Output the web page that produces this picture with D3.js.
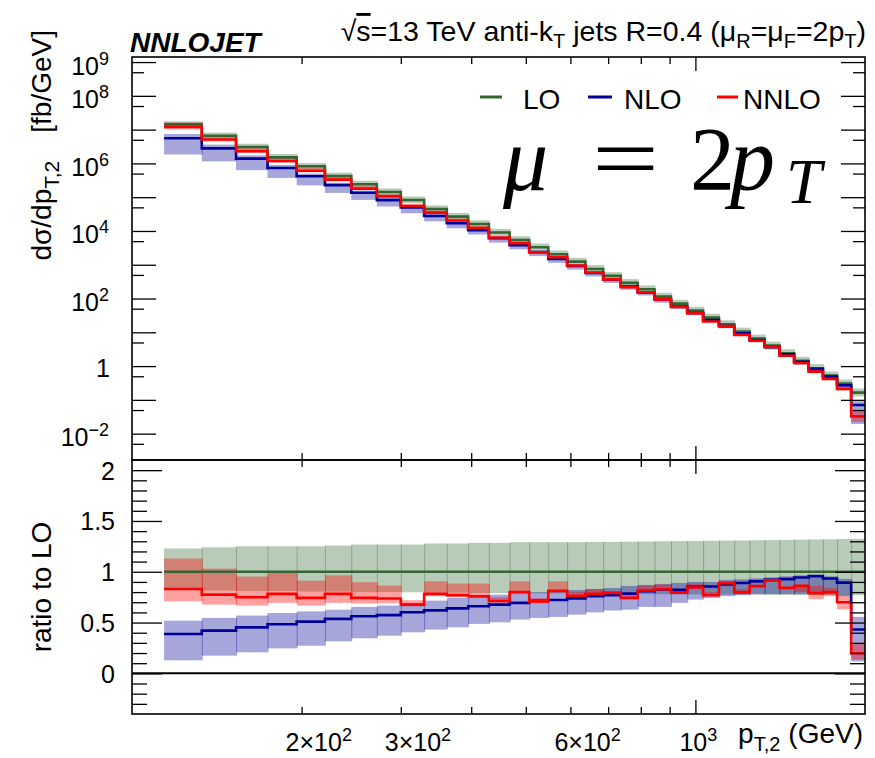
<!DOCTYPE html>
<html><head><meta charset="utf-8">
<script src="https://cdn.jsdelivr.net/npm/d3@7"></script>
<style>
body{margin:0;background:#fff}
svg{display:block}
text{fill:#000}
</style>
</head><body>
<svg id="c" width="875" height="758" style="font-family:'Liberation Sans',Arial,Helvetica,sans-serif"></svg>
<script>
// ---------------- data ----------------
const binEdges = [114,133,153,174,196,220,245,272,300,330,362,395,430,468,507,548,592,638,686,737,790,846,905,967,1032,1101,1172,1248,1327,1410,1497,1588,1684,1784,1890,2000];
// LO central cross section (fb/GeV)
const loXsec = [1.435e7,6.60e6,3.05e6,1.51e6,8.2e5,4.24e5,2.41e5,1.43e5,8.26e4,4.48e4,2.65e4,1.61e4,9.0e3,5.42e3,3.30e3,2.05e3,1.24e3,752,467,290,188,114,70.6,43.9,27.2,17.4,10.5,6.52,4.04,2.41,1.43,0.867,0.524,0.303,0.164];
// ratios to LO
const loUp  = [1.229,1.241,1.251,1.251,1.251,1.258,1.268,1.268,1.268,1.278,1.278,1.284,1.284,1.291,1.291,1.291,1.291,1.294,1.294,1.296,1.298,1.300,1.302,1.303,1.305,1.307,1.308,1.310,1.312,1.314,1.316,1.318,1.320,1.322,1.324];
const loDn  = [0.82,0.815,0.81,0.81,0.805,0.805,0.80,0.80,0.798,0.795,0.795,0.79,0.79,0.79,0.788,0.787,0.785,0.784,0.783,0.782,0.78,0.779,0.778,0.777,0.776,0.775,0.775,0.774,0.773,0.772,0.772,0.771,0.770,0.770,0.769];
const nloRatio = [0.388,0.421,0.453,0.483,0.509,0.536,0.562,0.573,0.601,0.62,0.64,0.66,0.677,0.694,0.715,0.722,0.738,0.759,0.770,0.785,0.808,0.825,0.822,0.851,0.855,0.874,0.89,0.905,0.92,0.928,0.943,0.956,0.933,0.893,0.431];
const nloUp = [0.519,0.546,0.569,0.594,0.610,0.627,0.654,0.667,0.694,0.716,0.742,0.759,0.775,0.788,0.80,0.81,0.82,0.83,0.84,0.86,0.87,0.88,0.89,0.90,0.90,0.92,0.925,0.935,0.945,0.955,0.965,0.975,0.955,0.93,0.556];
const nloDn = [0.128,0.174,0.207,0.246,0.272,0.315,0.345,0.371,0.404,0.431,0.453,0.487,0.502,0.529,0.546,0.555,0.578,0.600,0.618,0.627,0.654,0.654,0.694,0.726,0.742,0.76,0.77,0.78,0.78,0.78,0.78,0.78,0.78,0.76,0.118];
const nnloRatio = [0.831,0.775,0.749,0.782,0.743,0.782,0.743,0.737,0.677,0.782,0.770,0.759,0.712,0.80,0.709,0.812,0.764,0.784,0.792,0.743,0.815,0.828,0.795,0.845,0.769,0.888,0.797,0.86,0.916,0.84,0.86,0.79,0.80,0.700,0.198];
const nnloUp = [1.130,1.031,0.953,0.989,0.913,0.965,0.897,0.864,0.72,0.906,0.884,0.884,0.75,0.906,0.74,0.906,0.80,0.831,0.81,0.79,0.864,0.874,0.82,0.884,0.80,0.906,0.83,0.87,0.93,0.86,0.88,0.86,0.84,0.77,0.30];
const nnloDn = [0.709,0.677,0.667,0.694,0.667,0.694,0.687,0.69,0.66,0.76,0.75,0.74,0.70,0.78,0.69,0.80,0.75,0.77,0.78,0.73,0.80,0.82,0.78,0.83,0.76,0.87,0.79,0.84,0.90,0.83,0.80,0.73,0.76,0.63,0.135];
// tick labels
const topLabelExps = [9,8,6,4,2,0,-2];
const ratioLabels = [0,0.5,1,1.5,2];
const xLabelVals = [200,300,600,1000];
const xLabelMant = ["2\u00d710","3\u00d710","6\u00d710","10"];
const xLabelExp = ["2","2","2","3"];
const seriesNames = ["LO","NLO","NNLO"];
const seriesColors = ["#336633","#000099","#ff0000"];

// ---------------- layout ----------------
const svg = d3.select("#c");
const L=132, R=865, T1=57, B1=460, T2=460, B2=714;
const n = loXsec.length;
const x = d3.scaleLog().domain([100,2000]).range([L,R]);
const yTop = d3.scaleLog().domain([Math.pow(10,-2.78),Math.pow(10,9.15)]).range([B1,T1]);
const yRat = d3.scaleLinear().domain([-0.4,2.1]).range([B2,T2]);

const mul = (a,b)=>a.map((v,i)=>v*b[i]);
const ones = loXsec.map(()=>1);
const series = [
  {c:loXsec, up:mul(loXsec,loUp), dn:mul(loXsec,loDn), r:ones, ru:loUp, rd:loDn},
  {c:mul(loXsec,nloRatio), up:mul(loXsec,nloUp), dn:mul(loXsec,nloDn), r:nloRatio, ru:nloUp, rd:nloDn},
  {c:mul(loXsec,nnloRatio), up:mul(loXsec,nnloUp), dn:mul(loXsec,nnloDn), r:nnloRatio, ru:nnloUp, rd:nnloDn}
];
const bandOpacity = [0.35,0.35,0.37];

const defs = svg.append("defs");
defs.append("clipPath").attr("id","clipTop").append("rect").attr("x",L).attr("y",T1).attr("width",R-L).attr("height",B1-T1);
defs.append("clipPath").attr("id","clipRat").append("rect").attr("x",L).attr("y",T2).attr("width",R-L).attr("height",B2-T2);

function stepPath(yS, vals){
  const pts = vals.map((v,i)=>[binEdges[i],v]);
  pts.push([binEdges[n], vals[n-1]]);
  return d3.line().x(d=>x(d[0])).y(d=>yS(d[1])).curve(d3.curveStepAfter)(pts);
}
function drawPanel(clip, yS, key){
  const g = svg.append("g").attr("clip-path",`url(#${clip})`);
  series.forEach((s,k)=>{
    const up = key==="top"? s.up : s.ru;
    const dn = key==="top"? s.dn : s.rd;
    g.append("g").selectAll("rect").data(d3.range(n)).join("rect")
      .attr("x",i=>x(binEdges[i]))
      .attr("width",i=>x(binEdges[i+1])-x(binEdges[i])+ (i<n-1?1:0))
      .attr("y",i=>yS(up[i]))
      .attr("height",i=>Math.max(0,yS(dn[i])-yS(up[i])))
      .attr("fill",seriesColors[k]).attr("fill-opacity",bandOpacity[k]);
  });
  if(key==="rat"){
    g.append("line").attr("x1",L).attr("x2",R).attr("y1",yRat(0)).attr("y2",yRat(0)).attr("stroke","#000").attr("stroke-width",2);
  }
  series.forEach((s,k)=>{
    const v = key==="top"? s.c : s.r;
    g.append("path").attr("d",stepPath(yS,v)).attr("fill","none")
      .attr("stroke",seriesColors[k]).attr("stroke-width",2.6).attr("stroke-linejoin","miter");
  });
}
drawPanel("clipTop", yTop, "top");
drawPanel("clipRat", yRat, "rat");

// ---------------- axes / ticks ----------------
function ticks(axisFn, scale, vals, size, tx, ty){
  const a = axisFn(scale).tickValues(vals).tickSizeInner(size).tickSizeOuter(0).tickFormat("");
  const g = svg.append("g").attr("transform",`translate(${tx},${ty})`).call(a);
  g.select(".domain").remove();
  g.selectAll("line").attr("stroke","#000").attr("stroke-width",1.3);
}
const topMajor = d3.range(-2,10).map(e=>Math.pow(10,e));
const topMinor = d3.range(-3,9).map(e=>5*Math.pow(10,e));
ticks(d3.axisLeft, yTop, topMajor, -24, L, 0);
ticks(d3.axisLeft, yTop, topMinor, -12, L, 0);
ticks(d3.axisRight, yTop, topMajor, -24, R, 0);
ticks(d3.axisRight, yTop, topMinor, -12, R, 0);
const ratMajor = [0,0.5,1,1.5,2];
const ratMinor = d3.range(-3,21).map(v=>v/10).filter(v=>Math.abs(v*2-Math.round(v*2))>1e-6);
ticks(d3.axisLeft, yRat, ratMajor, -30, L, 0);
ticks(d3.axisLeft, yRat, ratMinor, -15, L, 0);
ticks(d3.axisRight, yRat, ratMajor, -30, R, 0);
ticks(d3.axisRight, yRat, ratMinor, -15, R, 0);
const xMinor = [200,300,400,500,600,700,800,900];
const xMajor = [1000];
[[T1,d3.axisTop],[B1,d3.axisBottom],[T2,d3.axisTop],[B2,d3.axisBottom]].forEach(([yy,fn])=>{
  ticks(fn, x, xMinor, -7, 0, yy);
  ticks(fn, x, xMajor, -14, 0, yy);
});

svg.append("rect").attr("x",L).attr("y",T1).attr("width",R-L).attr("height",B1-T1).attr("fill","none").attr("stroke","#000").attr("stroke-width",1.6);
svg.append("rect").attr("x",L).attr("y",T2).attr("width",R-L).attr("height",B2-T2).attr("fill","none").attr("stroke","#000").attr("stroke-width",1.6);

// ---------------- labels ----------------
function supText(xx, yy, base, sup, anchor, fs, sfs, raise){
  const t = svg.append("text").attr("x",xx).attr("y",yy).attr("text-anchor",anchor).attr("font-size",fs);
  t.append("tspan").text(base);
  if(sup!==null) t.append("tspan").attr("dy",-raise).attr("font-size",sfs).text(sup);
  return t;
}
topLabelExps.forEach(e=>{
  const yy = yTop(Math.pow(10,e));
  if(e===0) supText(110, yy+10.5, "1", null, "end", 25);
  else supText(109, yy+12.5, "10", e<0?"\u2212"+(-e):String(e), "end", 25, 18, 10);
});
ratioLabels.forEach(v=>{
  svg.append("text").attr("x",115).attr("y",yRat(v)+9.5).attr("text-anchor","end").attr("font-size",25).text(String(v));
});
xLabelVals.forEach((v,i)=>{
  supText(x(v)-16, 751, xLabelMant[i], xLabelExp[i], "start", 25, 18, 10);
});

const xt = svg.append("text").attr("x",863).attr("y",743).attr("text-anchor","end").attr("font-size",28);
xt.append("tspan").text("p");
xt.append("tspan").attr("dy",8).attr("font-size",20).text("T,2");
xt.append("tspan").attr("dy",-8).attr("dx",8).text("(GeV)");

const yt = svg.append("text").attr("transform","translate(51,30) rotate(-90)").attr("text-anchor","end").attr("font-size",28);
yt.append("tspan").text("d\u03c3/dp");
yt.append("tspan").attr("dy",8).attr("font-size",21).text("T,2");
yt.append("tspan").attr("dy",-8).attr("dx",28).text("[fb/GeV]");

svg.append("text").attr("transform","translate(51,587) rotate(-90)").attr("text-anchor","middle").attr("font-size",28).text("ratio to LO");

svg.append("text").attr("x",130).attr("y",52).attr("font-size",28).attr("font-weight","bold").attr("font-style","italic").text("NNLOJET");
const tt = svg.append("text").attr("x",866).attr("y",41).attr("text-anchor","end").attr("font-size",28.5);
tt.append("tspan").text("\u221a");
tt.append("tspan").style("text-decoration","overline").text("s");
tt.append("tspan").text("=13 TeV anti-k");
tt.append("tspan").attr("dy",7).attr("font-size",20).text("T");
tt.append("tspan").attr("dy",-7).text(" jets R=0.4 (\u03bc");
tt.append("tspan").attr("dy",7).attr("font-size",20).text("R");
tt.append("tspan").attr("dy",-7).text("=\u03bc");
tt.append("tspan").attr("dy",7).attr("font-size",20).text("F");
tt.append("tspan").attr("dy",-7).text("=2p");
tt.append("tspan").attr("dy",7).attr("font-size",20).text("T");
tt.append("tspan").attr("dy",-7).text(")");

const legX = [[480,502,523],[588,612,624],[717,738,743]];
seriesNames.forEach((nm,k)=>{
  svg.append("line").attr("x1",legX[k][0]).attr("x2",legX[k][1]).attr("y1",97).attr("y2",97).attr("stroke",seriesColors[k]).attr("stroke-width",3);
  svg.append("text").attr("x",legX[k][2]).attr("y",109).attr("font-size",28).text(nm);
});

// mu = 2 p_T
const mf = "'Liberation Serif','DejaVu Serif',serif";
svg.append("text").attr("x",503).attr("y",190).style("font-family",mf).style("font-style","italic").attr("font-size",90).text("\u03bc");
svg.append("text").attr("x",592).attr("y",188).style("font-family",mf).attr("font-size",88).attr("transform","translate(592,0) scale(1.35,1) translate(-592,0)").text("=");
svg.append("text").attr("x",690).attr("y",190).style("font-family",mf).attr("font-size",90).text("2");
svg.append("text").attr("x",730).attr("y",190).style("font-family",mf).style("font-style","italic").attr("font-size",90).text("p");
svg.append("text").attr("x",786).attr("y",203).style("font-family",mf).style("font-style","italic").attr("font-size",64).text("T");
</script>
</body></html>
